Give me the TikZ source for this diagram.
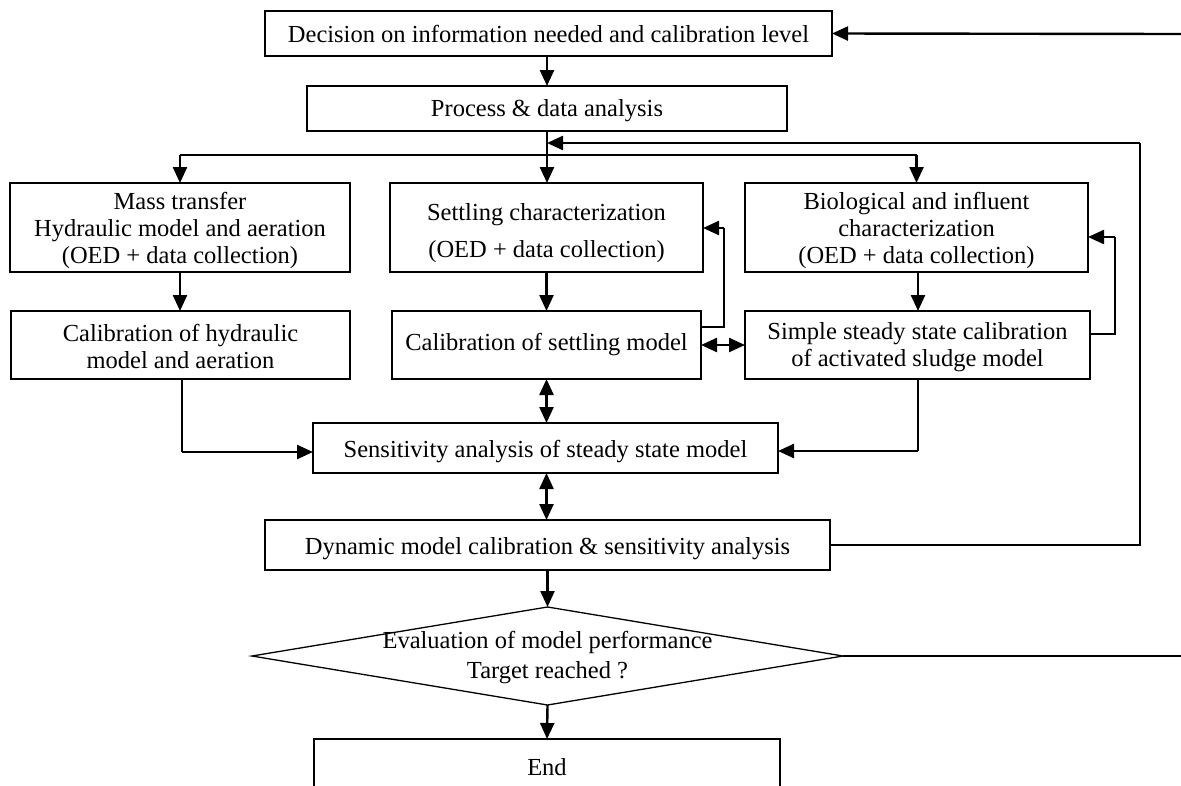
\documentclass[tikz,border=0pt]{standalone}
\usepackage{fontspec}
\setmainfont{Liberation Serif}
\usetikzlibrary{arrows.meta,shapes.geometric,calc}
\begin{document}
\begin{tikzpicture}[x=1pt,y=-1pt,
  box/.style={draw, line width=1.3pt, rectangle, inner sep=0pt, outer sep=0pt},
  txt/.style={inner sep=0pt, align=center, font=\fontsize{24.5}{27}\selectfont},
  thk/.style={line width=2.4pt},
  thn/.style={line width=1.3pt},
  tip/.style={-{Triangle[length=16pt,width=14pt]}},
  dtip/.style={{Triangle[length=16pt,width=14pt]}-{Triangle[length=16pt,width=14pt]}}]
\clip (0,0) rectangle (1181,785);
\fill[white] (0,0) rectangle (1181,785);

% boxes
\node[box, minimum width=567pt, minimum height=45pt] (b1) at (548.5,33.5) {};
\node[box, minimum width=480pt, minimum height=45pt] (b2) at (547,108.5) {};
\node[box, minimum width=340pt, minimum height=89pt] (mass) at (180,227.5) {};
\node[box, minimum width=313pt, minimum height=89pt] (setc) at (546.5,227.5) {};
\node[box, minimum width=343pt, minimum height=89pt] (bio) at (916.5,227.5) {};
\node[box, minimum width=339pt, minimum height=68pt] (calh) at (180.5,345) {};
\node[box, minimum width=309pt, minimum height=68pt] (cals) at (546.5,345) {};
\node[box, minimum width=345pt, minimum height=68pt] (sss) at (917.5,345) {};
\node[box, minimum width=465pt, minimum height=50pt] (sens) at (545.5,448) {};
\node[box, minimum width=565pt, minimum height=50pt] (dyn) at (547.5,545) {};
\node[diamond, draw, line width=1.3pt, minimum width=591pt, minimum height=98pt, inner sep=0pt, outer sep=0pt] (dia) at (547.5,656) {};
\node[box, minimum width=466pt, minimum height=56pt] (end) at (547,767) {};

% texts
\node[txt] (b1t) at ($(b1)+(0,0.5)$) {Decision on information needed and calibration level};
\node[txt] (b2t) at ($(b2)+(0,2.5)$) {Process \& data analysis};
\node[txt] (masst) at ($(mass)+(0,2.5)$) {Mass transfer\\Hydraulic model and aeration\\(OED + data collection)};
\node[txt, font=\fontsize{24.5}{37}\selectfont] (setct) at ($(setc)+(0,5.5)$) {Settling characterization\\(OED + data collection)};
\node[txt] (biot) at ($(bio)+(0,2.5)$) {Biological and influent\\characterization\\(OED + data collection)};
\node[txt] (calht) at ($(calh)+(0,1.5)$) {Calibration of hydraulic\\model and aeration};
\node[txt] (calst) at ($(cals)+(0,0)$) {Calibration of settling model};
\node[txt] (ssst) at ($(sss)+(0,2.5)$) {Simple steady state calibration\\of activated sludge model};
\node[txt] (senst) at ($(sens)+(0,4)$) {Sensitivity analysis of steady state model};
\node[txt] (dynt) at ($(dyn)+(0,3.5)$) {Dynamic model calibration \& sensitivity analysis};
\node[txt, font=\fontsize{24.5}{30}\selectfont] (diat) at ($(dia)+(0,2)$) {Evaluation of model performance\\Target reached ?};
\node[txt] (endt) at (end) {End};

% coordinates for free ends and bends
\coordinate (tr) at (1181,34);
\coordinate (br) at (547,155);
\coordinate (fr) at (1140,143);
\coordinate (c1) at (724,327);
\coordinate (c2) at (724,228);
\coordinate (s1) at (1115,334);
\coordinate (s2) at (1115,237);
\coordinate (h1) at (182,452);
\coordinate (g1) at (918,451);
\coordinate (dr) at (1181,656);

% connectors
\draw[thk,tip] (tr) -- (b1.east);
\draw[thk,tip] (b1.south -| b2.south) -- (b2.north);
\draw[thk,tip] (b2.south) -- (b2.south |- setc.north);
\draw[thn] (mass.north |- br) -- (bio.north |- br);
\draw[thk,tip] (mass.north |- br) -- (mass.north);
\draw[thk,tip] (bio.north |- br) -- (bio.north);
\draw[thn] (dyn.east) -| (fr);
\draw[thk,tip] (fr) -- (b2.south |- fr);

\draw[thk,tip] (mass.south) -- (calh.north -| mass.south);
\draw[thk,tip] (setc.south) -- (cals.north);
\draw[thk,tip] (bio.south -| g1) -- (sss.north -| g1);

\draw[thn] (cals.east |- c1) -- (c1) -- (c2);
\draw[thk,tip] (c2) -- (setc.east |- c2);
\draw[thn] (sss.east |- s1) -- (s1) -- (s2);
\draw[thk,tip] (s2) -- (bio.east |- s2);
\draw[thk,dtip] (cals.east) -- (sss.west);

\draw[thk,dtip] (cals.south) -- (cals.south |- sens.north);
\draw[thn] (calh.south -| h1) -- (h1);
\draw[thk,tip] (h1) -- (sens.west |- h1);
\draw[thn] (sss.south -| g1) -- (g1);
\draw[thk,tip] (g1) -- (sens.east |- g1);

\draw[thk,dtip] (sens.south -| cals.south) -- (dyn.north -| cals.south);
\draw[thk,tip] (dyn.south) -- (dia.north);
\draw[thk,tip] (dia.south) -- (end.north);
\draw[thn] (dia.east) -- (dr);
\end{tikzpicture}
\end{document}
